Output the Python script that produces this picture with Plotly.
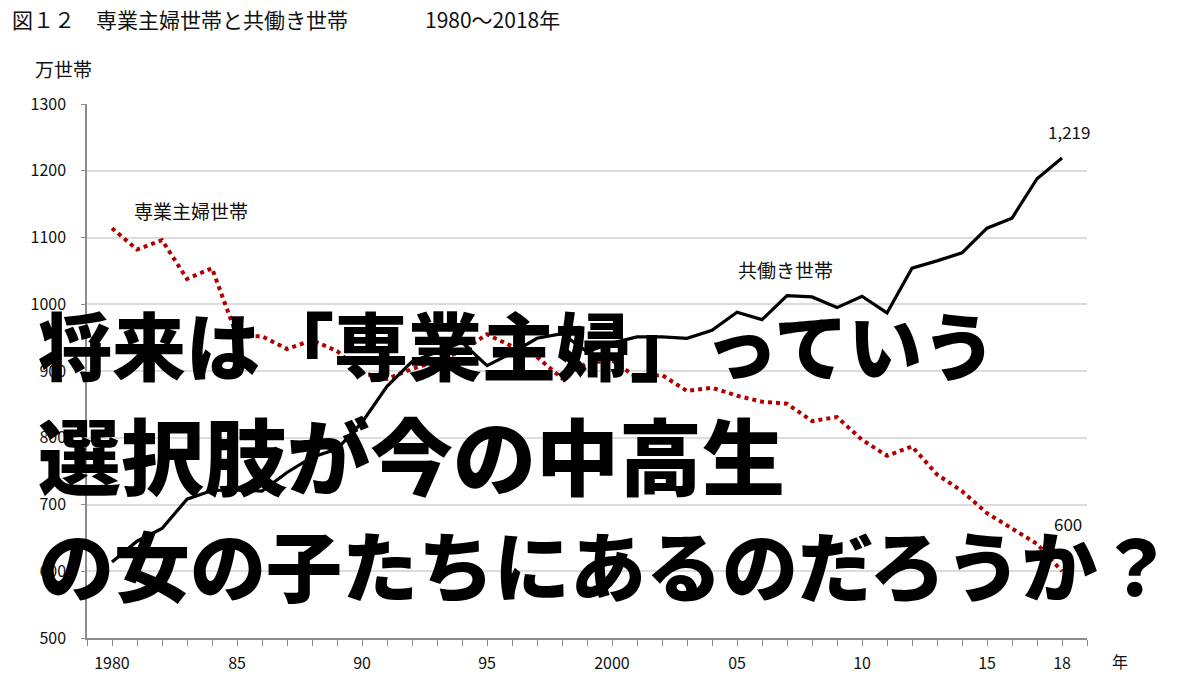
import plotly.graph_objects as go

years = list(range(1980, 2019))
housewife = [1114, 1082, 1096, 1038, 1054, 952, 952, 933, 946, 930,
             897, 888, 903, 915, 930, 955, 937, 921, 889, 912,
             916, 890, 894, 870, 875, 863, 854, 851, 825, 831,
             797, 773, 787, 745, 720, 687, 664, 641, 600]
dual = [614, 645, 664, 708, 721, 722, 720, 748, 771, 783,
        823, 877, 914, 929, 943, 908, 927, 949, 956, 929,
        942, 951, 951, 949, 961, 988, 977, 1013, 1011, 995,
        1012, 987, 1054, 1065, 1077, 1114, 1129, 1188, 1219]
xtick_vals = [1980, 1985, 1990, 1995, 2000, 2005, 2010, 2015, 2018]
xtick_text = ["1980", "85", "90", "95", "2000", "05", "10", "15", "18"]
title_main = "図１２　専業主婦世帯と共働き世帯"
title_years = "1980～2018年"
overlay_lines = ["将来は「専業主婦」っていう", "選択肢が今の中高生", "の女の子たちにあるのだろうか？"]

JP = "Noto Sans CJK JP"

fig = go.Figure()
fig.add_trace(go.Scatter(x=years, y=housewife, mode="lines",
                         line=dict(color="#B00000", width=4, dash="dot"),
                         showlegend=False, hoverinfo="skip"))
fig.add_trace(go.Scatter(x=years, y=dual, mode="lines",
                         line=dict(color="#000000", width=3.2),
                         showlegend=False, hoverinfo="skip"))

W, H = 1200, 675
PL, PR, PT, PB = 87, 1087, 104, 638   # plot area in page pixels
L, R, T, B = PL, W - PR, PT, H - PB
pw, ph = W - L - R, H - T - B

def px(x):
    return (x - L) / pw

def py(y):
    return (H - B - y) / ph

def txt(x, y, s, size, xanchor="left", **font):
    f = dict(family=JP, size=size, color=font.get("color", "#111"))
    if "weight" in font:
        f["weight"] = font["weight"]
    return dict(x=px(x), y=py(y), xref="paper", yref="paper", text=s,
                showarrow=False, xanchor=xanchor, yanchor="middle", font=f)

ann = []
ann.append(txt(10, 19, title_main, 21))
ann.append(txt(423, 19, title_years, 21))
ann.append(txt(33, 68, "万世帯", 19))
ann.append(txt(1120, 661, "年", 16, xanchor="center"))
ann.append(txt(191, 210, "専業主婦世帯", 19, xanchor="center"))
ann.append(txt(785, 269, "共働き世帯", 19, xanchor="center"))
ann.append(dict(x=years[-1], y=dual[-1], xref="x", yref="y", text=f"{dual[-1]:,}",
                showarrow=False, xanchor="center", yanchor="middle", yshift=27, xshift=7,
                font=dict(family=JP, size=17, color="#111")))
ann.append(dict(x=years[-1], y=housewife[-1], xref="x", yref="y", text=f"{housewife[-1]:,}",
                showarrow=False, xanchor="center", yanchor="middle", yshift=48, xshift=6,
                font=dict(family=JP, size=17, color="#111")))

line_y = [342, 453, 563]
line_size = [74, 83, 76]
for s, yy, sz in zip(overlay_lines, line_y, line_size):
    ann.append(txt(36, yy, s, sz, color="#000", weight=900))

fig.update_layout(
    width=W, height=H,
    margin=dict(l=L, r=R, t=T, b=B, autoexpand=False),
    paper_bgcolor="white", plot_bgcolor="white",
    annotations=ann,
    xaxis=dict(range=[1979, 2019], tickvals=xtick_vals, ticktext=xtick_text,
               automargin=False,
               showgrid=False, zeroline=False, showline=True, linecolor="#8c8c8c",
               linewidth=1.5, ticks="outside", ticklen=6, tickcolor="#8c8c8c",
               minor=dict(tick0=1979, dtick=1, ticks="outside", ticklen=6,
                          tickcolor="#8c8c8c", showgrid=False),
               ticklabelstandoff=4,
               tickfont=dict(family=JP, size=16, color="#111"), fixedrange=True),
    yaxis=dict(range=[500, 1300], dtick=100, showgrid=True, gridcolor="#dcdcdc", gridwidth=1.5,
               automargin=False,
               zeroline=False, showline=True, linecolor="#8c8c8c", linewidth=1.5,
               ticks="outside", ticklen=4, tickcolor="#8c8c8c", ticklabelstandoff=12,
               tickfont=dict(family=JP, size=16, color="#111"), fixedrange=True),
)

fig.write_html("out.html", config={"displayModeBar": False},
               post_script="document.body.style.margin='0';document.body.style.overflow='hidden';")
